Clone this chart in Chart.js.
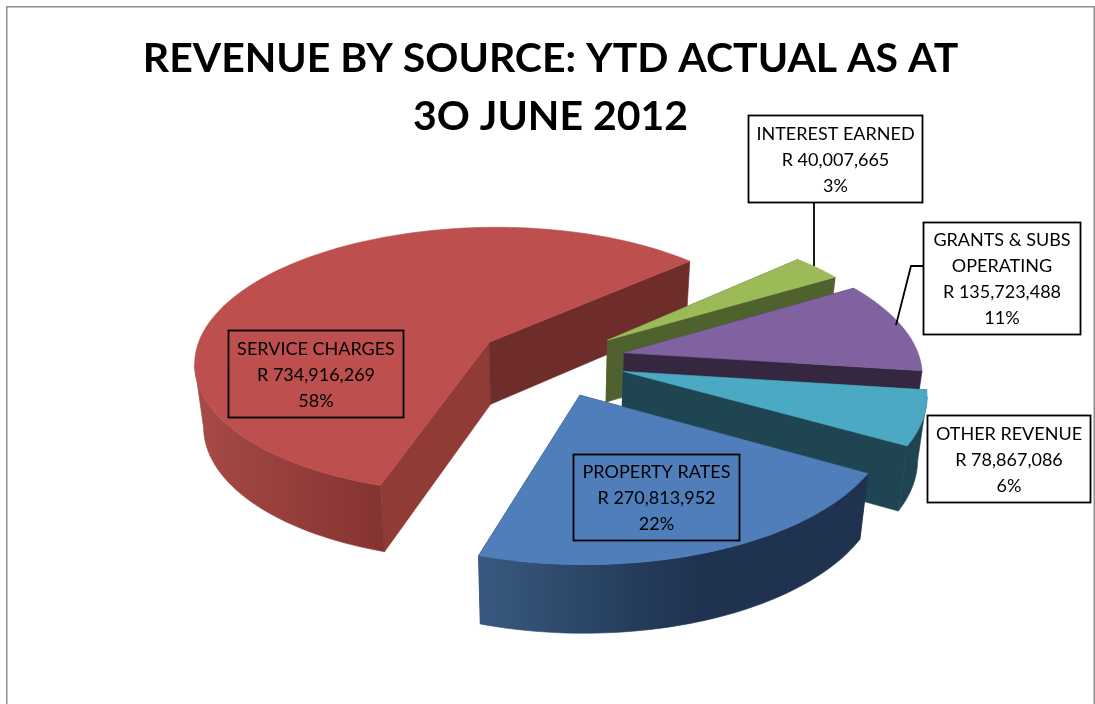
<!DOCTYPE html>
<html>
<head>
<meta charset="utf-8">
<title>Revenue by source</title>
<style>
  html, body { margin: 0; padding: 0; background: #fff; }
  #wrap { position: relative; width: 1095px; height: 704px; }
</style>
<script src="https://cdn.jsdelivr.net/npm/chart.js@4"></script>
</head>
<body>
<div id="wrap"><canvas id="chart" width="1095" height="704"></canvas></div>
<script>
// Revenue figures, in slice order clockwise from the front of the pie.
const categories = ['SERVICE CHARGES', 'INTEREST EARNED', ['GRANTS & SUBS', 'OPERATING'], 'OTHER REVENUE', 'PROPERTY RATES'];
const amounts = [734916269, 40007665, 135723488, 78867086, 270813952];
const percentLabels = ['58%', '3%', '11%', '6%', '22%'];
const titleLines = ['REVENUE BY SOURCE: YTD ACTUAL AS AT', '3O JUNE 2012'];

// Slice appearance.
const topColors = ['#BD504E', '#9BBB59', '#8062A0', '#4BA9C3', '#4F7EBA'];
const radialWallColors = [['#913B37', '#6E2C2A'], ['#4F612C', '#4F612C'], ['#35273F', '#35273F'], ['#1F4452', '#1F4452'], ['#1F3350', '#1F3350']];
const outerWallStops = [
  [[197, '#A64A46'], [384, '#843331']],
  [[795, '#4F612C'], [835, '#4F612C']],
  [[850, '#35273F'], [920, '#35273F']],
  [[880, '#1F4452'], [930, '#1F4452']],
  [[478, '#385A80'], [650, '#233A58'], [700, '#1F3350']]
];
const explode = [72, 72, 75, 75, 78];

// Projection of the pie plane on to the page.
const view = { cx: 550, cy: 360, sx: 1.02, k: 0.467, p: 0.000475, bottomScale: 0.975, depth: 62.5, depthGrow: 0.03 };

function project(u, v) {
  const w = 1 - view.p * v;
  return { x: view.cx + view.sx * u / w, y: view.cy + view.k * v / w };
}
function lower(pt) {
  return {
    x: view.cx + (pt.x - view.cx) * view.bottomScale,
    y: pt.y + view.depth + view.depthGrow * (pt.y - view.cy)
  };
}
function poly(ctx, pts, fill) {
  ctx.beginPath();
  pts.forEach((p, i) => i ? ctx.lineTo(p.x, p.y) : ctx.moveTo(p.x, p.y));
  ctx.closePath();
  ctx.fillStyle = fill;
  ctx.fill();
  ctx.strokeStyle = fill;
  ctx.lineWidth = 0.6;
  ctx.stroke();
}
// A wall strip faces the viewer when its top edge runs right to left on the page.
function facesViewer(a, b) {
  return b.x < a.x;
}

// Draws each arc element as an extruded, exploded wedge.
const pieSolid = {
  id: 'pieSolid',
  beforeDatasetDraw(chart, args) {
    const ctx = chart.ctx;
    args.meta.data.forEach((el, i) => {
      const mid = (el.startAngle + el.endAngle) / 2;
      const ox = Math.cos(mid) * explode[i], oy = Math.sin(mid) * explode[i];
      const R = el.outerRadius;
      const steps = Math.max(6, Math.ceil((el.endAngle - el.startAngle) * 40));
      const rim = [];
      for (let s = 0; s <= steps; s++) {
        const a = el.startAngle + (el.endAngle - el.startAngle) * s / steps;
        rim.push(project(ox + R * Math.cos(a), oy + R * Math.sin(a)));
      }
      const apex = project(ox, oy);
      const rimLow = rim.map(lower);
      const apexLow = lower(apex);

      // Flat cut faces.
      poly(ctx, [apex, rim[0], rimLow[0], apexLow], radialWallColors[i][0]);
      poly(ctx, [apex, rim[steps], rimLow[steps], apexLow], radialWallColors[i][1]);

      // Outer curved wall, only where it turns towards the viewer.
      const stops = outerWallStops[i];
      const x0 = stops[0][0], x1 = stops[stops.length - 1][0];
      const grad = ctx.createLinearGradient(x0, 0, x1, 0);
      stops.forEach(st => grad.addColorStop((st[0] - x0) / (x1 - x0), st[1]));
      let run = [];
      const flush = () => {
        if (run.length > 1) {
          const lowPts = run.map(lower).reverse();
          poly(ctx, run.concat(lowPts), grad);
        }
        run = [];
      };
      for (let s = 0; s < steps; s++) {
        if (facesViewer(rim[s], rim[s + 1])) {
          if (!run.length) run.push(rim[s]);
          run.push(rim[s + 1]);
        } else {
          flush();
        }
      }
      flush();

      // Top face.
      poly(ctx, [apex].concat(rim), topColors[i]);
    });
    return false;
  }
};

// Data callouts and their leader lines.
const calloutBoxes = [
  { x: 228.5, y: 330.5, w: 175, h: 87 },
  { x: 748.5, y: 115.5, w: 174, h: 87, leader: [[814, 202], [814, 266]] },
  { x: 923.5, y: 222.5, w: 157, h: 112, leader: [[923, 266], [911, 266], [896, 325]] },
  { x: 927.5, y: 415.5, w: 163, h: 87 },
  { x: 573.5, y: 454.5, w: 166, h: 86 }
];
const filledBox = [false, true, true, true, false];

const callouts = {
  id: 'callouts',
  afterDraw(chart) {
    const ctx = chart.ctx;
    ctx.save();
    // Chart frame.
    ctx.strokeStyle = '#8E8E8E';
    ctx.lineWidth = 1.5;
    ctx.beginPath();
    ctx.moveTo(6.75, 704); ctx.lineTo(6.75, 6.75); ctx.lineTo(1094.25, 6.75); ctx.lineTo(1094.25, 704);
    ctx.stroke();

    categories.forEach((cat, i) => {
      const b = calloutBoxes[i];
      ctx.strokeStyle = '#000';
      ctx.lineWidth = 1.8;
      if (b.leader) {
        ctx.beginPath();
        b.leader.forEach((p, j) => j ? ctx.lineTo(p[0], p[1]) : ctx.moveTo(p[0], p[1]));
        ctx.stroke();
      }
      if (filledBox[i]) { ctx.fillStyle = '#fff'; ctx.fillRect(b.x, b.y, b.w, b.h); }
      ctx.strokeRect(b.x, b.y, b.w, b.h);
      const lines = [].concat(cat, 'R ' + amounts[i].toLocaleString('en-US'), percentLabels[i]);
      ctx.fillStyle = '#000';
      ctx.font = '18px Lato';
      ctx.textAlign = 'center';
      ctx.textBaseline = 'alphabetic';
      const top = b.y + b.h / 2 - lines.length * 26 / 2;
      lines.forEach((ln, j) => ctx.fillText(ln, b.x + b.w / 2, top + 26 * j + 19.5));
    });
    ctx.restore();
  }
};

new Chart(document.getElementById('chart'), {
  type: 'pie',
  data: {
    labels: categories,
    datasets: [{ data: amounts, backgroundColor: topColors, borderWidth: 0 }]
  },
  options: {
    responsive: false,
    animation: false,
    rotation: 197.4,
    radius: 290,
    layout: { padding: { left: 6, right: 0, top: 0, bottom: 0 } },
    plugins: {
      legend: { display: false },
      tooltip: { enabled: false },
      title: {
        display: true,
        text: titleLines,
        color: '#000',
        font: { family: 'Lato', weight: 'bold', size: 41, lineHeight: 1.415 },
        padding: { top: 30, bottom: 0 }
      }
    }
  },
  plugins: [pieSolid, callouts]
});
</script>
</body>
</html>
